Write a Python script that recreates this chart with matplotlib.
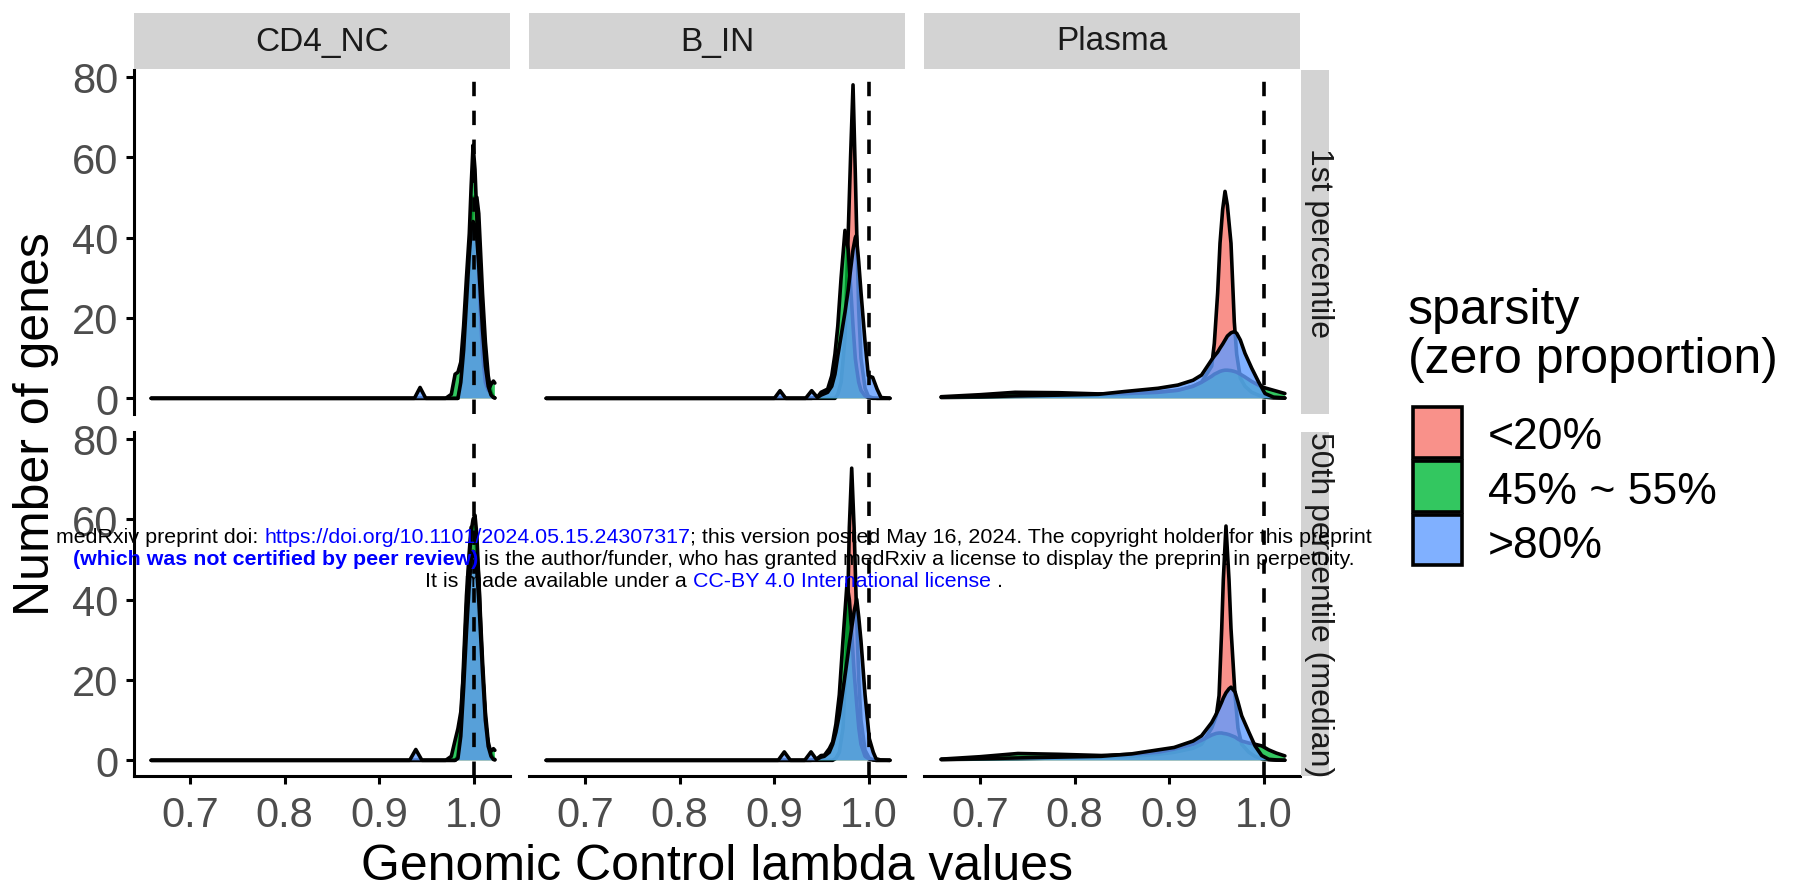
import matplotlib
matplotlib.use("Agg")
import matplotlib.pyplot as plt
from matplotlib.patches import Rectangle
from matplotlib.colors import to_rgba

W, H = 1798, 887
plt.rcParams['font.family'] = ['Liberation Sans', 'DejaVu Sans']

# ---------------- data ----------------
CELL_TYPES = ["CD4_NC", "B_IN", "Plasma"]
PERCENTILES = ["1st percentile", "50th percentile (median)"]
SPARSITY = ["<20%", "45% ~ 55%", ">80%"]
COLORS = ["#F8766D", "#00BA38", "#619CFF"]
X_TICKS = [0.7, 0.8, 0.9, 1.0]
Y_TICKS = [0, 20, 40, 60, 80]
REF_LAMBDA = 1.0
X_LABEL = "Genomic Control lambda values"
Y_LABEL = "Number of genes"
LEGEND_TITLE = ["sparsity", "(zero proportion)"]

# CD4_NC, 1st percentile
CD4_P1_X = [0.659, 0.937, 0.943, 0.949, 0.970, 0.976, 0.980, 0.983, 0.986, 0.989, 0.992, 0.995,
            0.997, 0.999, 1.001, 1.003, 1.005, 1.007, 1.009, 1.012, 1.015, 1.018, 1.0205, 1.022]
CD4_P1_LOW = [0, 0, 0, 0, 0, 0, 0, 0, 3, 10, 22, 34, 44, 50, 50, 50, 46, 36, 26, 14, 5.6, 1.5, 0.3, 0.1]
CD4_P1_MID = [0, 0, 0, 0, 0, 1, 6, 6.5, 9, 18, 30, 41, 53, 63, 57, 45, 32, 20, 11, 4, 2, 3.5, 4.3, 3.8]
CD4_P1_HIGH = [0, 0, 2.7, 0, 0, 0, 0, 0, 4, 12, 24, 36, 42, 44, 43, 40, 33, 25, 17, 8, 3, 0.8, 0.2, 0.1]

# CD4_NC, 50th percentile
CD4_P50_X = [0.659, 0.932, 0.9385, 0.945, 0.970, 0.976, 0.980, 0.983, 0.986, 0.989, 0.992, 0.995,
             0.997, 0.999, 1.001, 1.003, 1.005, 1.007, 1.009, 1.012, 1.015, 1.018, 1.0205, 1.022]
CD4_P50_LOW = [0, 0, 0, 0, 0, 0, 0, 1, 8, 24.6, 41, 52, 58, 58, 56, 52, 45.5, 34.7, 24.7, 12, 4.6, 1.6, 0.4, 0.2]
CD4_P50_MID = [0, 0, 0, 0, 0, 1, 5, 7.9, 12, 22, 38, 50, 57, 60, 61, 56, 45, 33, 22, 10, 3.5, 2.3, 2.9, 2.5]
CD4_P50_HIGH = [0, 0, 2.7, 0, 0, 0, 0, 0.5, 6, 18, 32, 44, 50, 52, 51, 47, 40, 31, 22, 10, 3.5, 1, 0.2, 0.1]

# B_IN, 1st percentile
BIN_P1_X = [0.659, 0.900, 0.906, 0.912, 0.933, 0.9394, 0.9455, 0.9493, 0.9563, 0.9606, 0.964, 0.967,
            0.9705, 0.9746, 0.978, 0.9805, 0.9831, 0.9855, 0.9866, 0.9891, 0.9915, 0.9958, 0.9993,
            1.0039, 1.0085, 1.0127, 1.022]
BIN_P1_LOW = [0, 0, 0, 0, 0, 0, 0, 0, 0, 0, 0, 1, 4, 15, 41, 60, 78, 56, 45, 22, 10, 2.5, 0.5, 0.1, 0, 0, 0]
BIN_P1_MID = [0, 0, 0, 0, 0, 0, 0.3, 1.5, 2.3, 5.6, 11, 18, 30, 41.8, 37, 28, 18, 10, 8, 4, 2, 0.6, 0.2, 0, 0, 0, 0]
BIN_P1_HIGH = [0, 0, 1.9, 0, 0, 1.9, 0.2, 0.8, 1.5, 3, 6, 10.6, 15.5, 21.4, 27, 32, 37, 40, 40.5, 34, 26.4,
               14, 5.6, 5.2, 2.3, 0.2, 0]

# B_IN, 50th percentile
BIN_P50_X = [0.659, 0.904, 0.9105, 0.917, 0.932, 0.9387, 0.9445, 0.9493, 0.9528, 0.958, 0.9616, 0.965,
             0.9686, 0.9725, 0.9767, 0.9792, 0.9817, 0.9842, 0.987, 0.9892, 0.9915, 0.9958, 1.0003,
             1.0045, 1.0074, 1.012, 1.022]
BIN_P50_LOW = [0, 0, 0, 0, 0, 0, 0, 0, 0, 0, 0, 0.5, 2, 8, 30, 58, 72.7, 58, 35, 20, 10, 2.5, 0.5, 0.1, 0, 0, 0]
BIN_P50_MID = [0, 0, 0, 0, 0, 0, 0.3, 1.2, 1.25, 2.9, 4.6, 9, 16.3, 30, 43.9, 40, 32, 22, 14, 8, 4, 1, 0.3,
               0.1, 0, 0, 0]
BIN_P50_HIGH = [0, 0, 2.1, 0, 0, 2.1, 0.2, 0.8, 1.0, 2, 4, 7, 11.3, 17.5, 24.6, 29, 33, 37, 40.1, 35.5, 29.7,
                16.3, 5.4, 2, 0.4, 0.1, 0]

# Plasma, 1st percentile
PLA_P1_X = [0.659, 0.70, 0.737, 0.783, 0.825, 0.853, 0.888, 0.909, 0.925, 0.934, 0.9447, 0.9475, 0.951,
            0.9535, 0.9563, 0.9588, 0.9613, 0.9651, 0.9686, 0.9711, 0.9750, 0.9799, 0.987, 0.994, 1.001,
            1.01, 1.022]
PLA_P1_LOW = [0.2, 0.3, 0.5, 0.6, 0.8, 1.0, 1.5, 2.0, 3.0, 4.0, 8.0, 13.7, 26.2, 38.6, 47, 51.5, 48, 38.6,
              19, 11, 5, 3, 1.5, 0.8, 0.3, 0.1, 0.05]
PLA_P1_MID = [0.4, 0.9, 1.5, 1.4, 1.1, 1.2, 1.5, 2.0, 3.0, 4.0, 5.5, 6.0, 6.4, 6.7, 6.9, 7.0, 7.0, 6.9, 6.7,
              6.5, 6.0, 5.3, 4.2, 3.3, 2.6, 2.0, 1.2]
PLA_P1_HIGH = [0.3, 0.4, 0.6, 0.8, 1.0, 1.7, 2.5, 3.3, 4.5, 5.8, 9.6, 10.5, 11.5, 12.5, 13.5, 14.5, 15.5,
               16.3, 16.6, 16.2, 14.5, 11.2, 7.5, 4.2, 1.2, 0.3, 0.1]

# Plasma, 50th percentile
PLA_P50_X = [0.659, 0.70, 0.74, 0.783, 0.828, 0.860, 0.888, 0.905, 0.925, 0.934, 0.9447, 0.9495, 0.9525,
             0.9553, 0.957, 0.9598, 0.963, 0.9651, 0.9694, 0.9725, 0.9764, 0.984, 0.9905, 0.9975, 1.005,
             1.013, 1.022]
PLA_P50_LOW = [0.2, 0.3, 0.4, 0.6, 0.8, 1.0, 1.5, 2.0, 3.0, 4.0, 8.0, 11, 16.1, 32.8, 45, 58.3, 45, 32.8,
               16.1, 8, 4, 2, 1, 0.4, 0.15, 0.05, 0.02]
PLA_P50_MID = [0.3, 0.9, 1.7, 1.5, 1.2, 1.5, 2.0, 2.8, 4.0, 5.0, 6.3, 6.7, 6.8, 6.8, 6.7, 6.6, 6.4, 6.2,
               5.8, 5.3, 4.8, 4.3, 4.0, 3.6, 2.6, 1.8, 1.1]
PLA_P50_HIGH = [0.2, 0.4, 0.6, 0.8, 1.0, 1.6, 2.6, 3.2, 4.8, 6.1, 9.4, 11.5, 13, 14.5, 15.5, 16.8, 17.8,
                18.2, 17, 14.5, 11.1, 7, 3.6, 1.2, 0.25, 0.1, 0.05]

PANELS = {
    (0, 0): (CD4_P1_X, CD4_P1_LOW, CD4_P1_MID, CD4_P1_HIGH),
    (1, 0): (CD4_P50_X, CD4_P50_LOW, CD4_P50_MID, CD4_P50_HIGH),
    (0, 1): (BIN_P1_X, BIN_P1_LOW, BIN_P1_MID, BIN_P1_HIGH),
    (1, 1): (BIN_P50_X, BIN_P50_LOW, BIN_P50_MID, BIN_P50_HIGH),
    (0, 2): (PLA_P1_X, PLA_P1_LOW, PLA_P1_MID, PLA_P1_HIGH),
    (1, 2): (PLA_P50_X, PLA_P50_LOW, PLA_P50_MID, PLA_P50_HIGH),
}

# ---------------- layout (pixels) ----------------
COL_X = [(134, 510), (529, 905), (924, 1300)]
ROW_Y = [(71, 415), (433, 777)]
TOP_STRIP_Y = (14, 70)
RIGHT_STRIP_X = (1301, 1329)
RIGHT_TEXT_X = 1319
XLIM = (0.6408, 1.038)
YLIM = (-3.9, 81.7)
ALPHA = 0.8
LW = 2.6
STRIP_GREY = "#D3D3D3"
AXIS_TEXT = "#4D4D4D"

fig = plt.figure(figsize=(W / 100, H / 100), dpi=100)


def px_axes(x0, y0, x1, y1):
    return fig.add_axes([x0 / W, 1 - y1 / H, (x1 - x0) / W, (y1 - y0) / H])


for r in range(2):
    for c in range(3):
        ax = px_axes(COL_X[c][0], ROW_Y[r][0], COL_X[c][1], ROW_Y[r][1])
        xs, low, mid, high = PANELS[(r, c)]
        for z, (ys, col) in enumerate(zip((low, mid, high), COLORS)):
            ax.fill_between(xs, 0, ys, facecolor=col, alpha=ALPHA, linewidth=0, zorder=2 + 2 * z)
            ax.plot(xs, ys, color="black", lw=LW, solid_joinstyle="round", solid_capstyle="round",
                    zorder=3 + 2 * z)
        ax.axvline(REF_LAMBDA, color="black", lw=LW, linestyle=(0, (4, 4)), zorder=10)
        ax.set_xlim(*XLIM)
        ax.set_ylim(*YLIM)
        ax.set_facecolor("white")
        for s in ("top", "right"):
            ax.spines[s].set_visible(False)
        ax.spines["left"].set_visible(c == 0)
        ax.spines["bottom"].set_visible(r == 1)
        for s in ("left", "bottom"):
            ax.spines[s].set_linewidth(2.2)
        ax.set_xticks(X_TICKS)
        ax.set_yticks(Y_TICKS)
        ax.tick_params(axis="x", length=5.5, width=2.2, pad=8, labelsize=30, labelcolor=AXIS_TEXT,
                       bottom=(r == 1), labelbottom=(r == 1))
        ax.tick_params(axis="y", length=5.5, width=2.2, pad=6, labelsize=30, labelcolor=AXIS_TEXT,
                       left=(c == 0), labelleft=(c == 0))
        ax.set_xticklabels([f"{t:.1f}" for t in X_TICKS])

# top strips
for c, name in enumerate(CELL_TYPES):
    sax = px_axes(COL_X[c][0], TOP_STRIP_Y[0], COL_X[c][1], TOP_STRIP_Y[1])
    sax.set_facecolor(STRIP_GREY)
    sax.set_xticks([]); sax.set_yticks([])
    for s in sax.spines.values():
        s.set_visible(False)
    sax.text(0.5, 0.5, name, ha="center", va="center", fontsize=24, color="#1A1A1A",
             transform=sax.transAxes)

# right strips
for r, name in enumerate(PERCENTILES):
    sax = px_axes(RIGHT_STRIP_X[0], ROW_Y[r][0], RIGHT_STRIP_X[1], ROW_Y[r][1])
    sax.set_facecolor(STRIP_GREY)
    sax.set_xticks([]); sax.set_yticks([])
    for s in sax.spines.values():
        s.set_visible(False)
    fig.text(RIGHT_TEXT_X / W, 1 - (ROW_Y[r][0] + ROW_Y[r][1]) / 2 / H, name, ha="center", va="center",
             fontsize=23, color="#1A1A1A", rotation=-90)

# axis titles
fig.text(717 / W, 1 - 880 / H, X_LABEL, ha="center", va="baseline", fontsize=36)
fig.text(36 / W, 1 - 424 / H, Y_LABEL, ha="center", va="center", rotation=90, fontsize=36)

# legend
fig.text(1408 / W, 1 - 324 / H, LEGEND_TITLE[0], ha="left", va="baseline", fontsize=36)
fig.text(1408 / W, 1 - 373 / H, LEGEND_TITLE[1], ha="left", va="baseline", fontsize=36)
KEY_Y = [(408, 459), (462, 513), (516, 566)]
LABEL_BASE = [449, 504, 558]
for (y0, y1), col, lab, yb in zip(KEY_Y, COLORS, SPARSITY, LABEL_BASE):
    fig.add_artist(Rectangle((1413 / W, 1 - y1 / H), 49 / W, (y1 - y0) / H, transform=fig.transFigure,
                             facecolor=to_rgba(col, ALPHA), edgecolor="black", lw=LW))
    fig.text(1488 / W, 1 - yb / H, lab, ha="left", va="baseline", fontsize=32)

# medRxiv watermark
renderer = fig.canvas.get_renderer()
WM_SIZE = 15.4
BLUE = "#0000FF"


def text_width(s, weight):
    t = fig.text(0, 0, s + "|", fontsize=WM_SIZE, fontweight=weight)
    w = t.get_window_extent(renderer).width
    t.remove()
    t = fig.text(0, 0, "|", fontsize=WM_SIZE, fontweight=weight)
    w -= t.get_window_extent(renderer).width
    t.remove()
    return w


def draw_line(segments, y_base, x_center=714):
    widths = [text_width(s, wt) for s, _, wt in segments]
    x = x_center - sum(widths) / 2
    for (s, col, wt), w in zip(segments, widths):
        fig.text(x / W, 1 - y_base / H, s, fontsize=WM_SIZE, color=col, fontweight=wt,
                 ha="left", va="baseline")
        x += w


draw_line([("medRxiv preprint doi: ", "black", "normal"),
           ("https://doi.org/10.1101/2024.05.15.24307317", BLUE, "normal"),
           ("; this version posted May 16, 2024. The copyright holder for this preprint", "black", "normal")],
          543)
draw_line([("(which was not certified by peer review)", BLUE, "bold"),
           (" is the author/funder, who has granted medRxiv a license to display the preprint in perpetuity.",
            "black", "normal")], 565)
draw_line([("It is made available under a ", "black", "normal"),
           ("CC-BY 4.0 International license", BLUE, "normal"),
           (" .", "black", "normal")], 587)

fig.savefig("out.png", dpi=100, facecolor="white")
